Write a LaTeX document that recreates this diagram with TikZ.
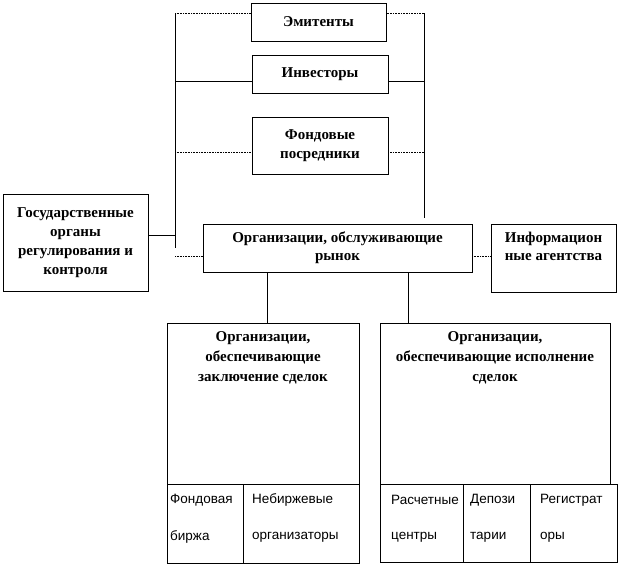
\documentclass[tikz,border=0pt]{standalone}
\usepackage{fontspec}
\setmainfont{Liberation Serif}
\newfontfamily\cellfont{Liberation Sans}
\begin{document}
\begin{tikzpicture}[x=1pt,y=-1pt,
  box/.style={draw=black,line width=0.6pt,inner sep=0pt,align=center,font=\bfseries\fontsize{15}{19}\selectfont},
  ttl/.style={inner sep=0pt,align=center,anchor=north,font=\bfseries\fontsize{15}{20}\selectfont},
  cell/.style={draw=black,line width=0.6pt,inner sep=0pt},
  ctext/.style={inner sep=0pt,anchor=west,font=\cellfont\fontsize{13.5}{15}\selectfont},
  conn/.style={line width=0.6pt},
  dconn/.style={line width=0.6pt,densely dotted}]
\useasboundingbox[fill=white] (0,0) rectangle (619,565);
% top boxes
\node[box,minimum width=135,minimum height=38] (emit) at (318.5,22) {Эмитенты};
\node[box,minimum width=136,minimum height=38] (inv) at (320,74) {Инвесторы};
\node[box,minimum width=136,minimum height=57] (fond) at (320,145.5) {Фондовые\\посредники};
\node[box,minimum width=145,minimum height=97] (gos) at (75.5,242.5) {Государственные\\органы\\регулирования и\\контроля};
\node[box,minimum width=269,minimum height=48,font=\bfseries\fontsize{15}{18}\selectfont] (org) at (337.5,248) {Организации, обслуживающие\\рынок};
\node[box,minimum width=125,minimum height=68,anchor=north] (info) at (553.5,224) {};
\node[ttl,anchor=north,font=\bfseries\fontsize{15}{18}\selectfont] (infot) at (553.5,232) {Информацион\\ные агентства};
% big boxes
\node[cell,minimum width=192,minimum height=161] (zak) at (263,403.5) {};
\node[ttl] (zakt) at (zak.north) [yshift=-9] {Организации,\\обеспечивающие\\заключение сделок};
\node[cell,minimum width=230,minimum height=161] (isp) at (495,403.5) {};
\node[ttl] (ispt) at (isp.north) [yshift=-9] {Организации,\\обеспечивающие исполнение\\сделок};
% cells
\node[cell,minimum width=76,minimum height=79] (c1) at (205,523.5) {};
\node[cell,minimum width=116,minimum height=79] (c2) at (301,523.5) {};
\node[cell,minimum width=83,minimum height=78] (c3) at (421.5,523) {};
\node[cell,minimum width=67,minimum height=78] (c4) at (496.5,523) {};
\node[cell,minimum width=87,minimum height=78] (c5) at (573.5,523) {};
\node[ctext] (t1a) at (170,500) {Фондовая};
\node[ctext] (t1b) at (170,537) {биржа};
\node[ctext] (t2a) at (252,500) {Небиржевые};
\node[ctext] (t2b) at (252,537) {организаторы};
\node[ctext] (t3a) at (391,500) {Расчетные};
\node[ctext] (t3b) at (391,537) {центры};
\node[ctext] (t4a) at (470,500) {Депози};
\node[ctext] (t4b) at (470,537) {тарии};
\node[ctext] (t5a) at (540,500) {Регистрат};
\node[ctext] (t5b) at (540,537) {оры};
% bus coordinates
\coordinate (L1) at (175,13);
\coordinate (L2) at (175,81);
\coordinate (L3) at (175,152);
\coordinate (L4) at (175,235);
\coordinate (L5) at (175,248);
\coordinate (R1) at (424,13);
\coordinate (R2) at (424,81);
\coordinate (R3) at (424,152);
\coordinate (R5) at (424,218);
\coordinate (D1) at (175,256);
\coordinate (D2) at (472,256);
\coordinate (B1) at (267,272);
\coordinate (B2) at (408,272);
% connectors
\draw[conn] (L1) -- (L5);
\draw[conn] (R1) -- (R5);
\draw[dconn] (L1) -- (L1 -| emit.west);
\draw[dconn] (R1) -- (R1 -| emit.east);
\draw[conn] (L2) -- (L2 -| inv.west);
\draw[conn] (R2) -- (R2 -| inv.east);
\draw[dconn] (L3) -- (L3 -| fond.west);
\draw[dconn] (R3) -- (R3 -| fond.east);
\draw[conn] (gos.east |- L4) -- (L4);
\draw[dconn] (D1) -- (D1 -| org.west);
\draw[dconn] (D2) -- (D2 -| info.west);
\draw[conn] (B1) -- (B1 |- zak.north);
\draw[conn] (B2) -- (B2 |- isp.north);
\end{tikzpicture}
\end{document}
